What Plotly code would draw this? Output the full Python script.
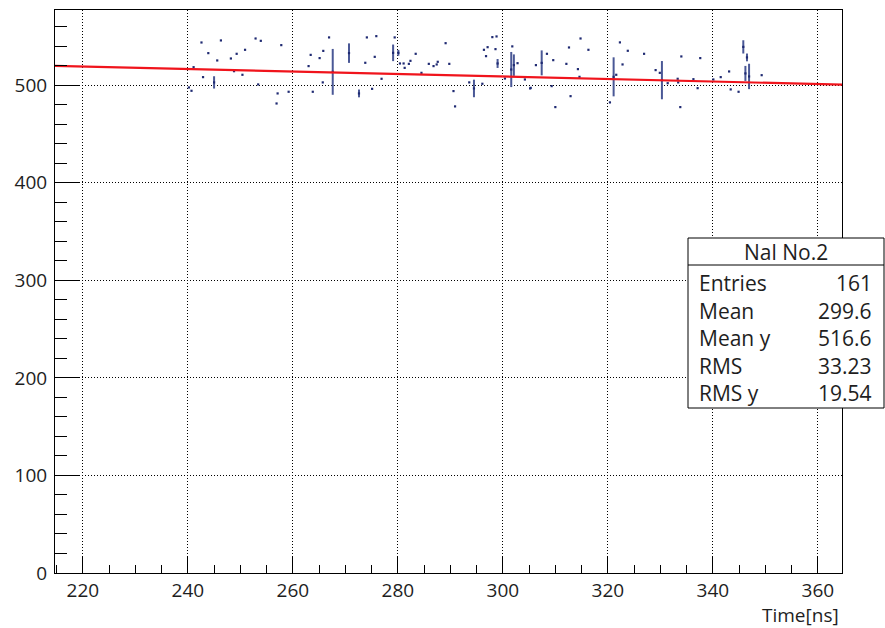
import plotly.graph_objects as go

# ---- data ----
# isolated points (no visible error bar)
pt_x = [242.6, 246.3, 252.9, 253.9, 257.8, 243.9, 249.3, 250.9, 245.6, 248.2,
        241.1, 248.8, 242.9, 250.4, 240.2, 240.7, 253.4, 257.1, 259.2, 256.9,
        266.9, 263.4, 265.1, 265.8, 263.0, 274.1, 275.9, 275.6, 273.8, 265.7,
        263.8, 275.1, 276.9, 279.4, 280.4, 281.1, 282.1, 282.4, 281.3, 283.4,
        289.1, 285.9, 286.8, 287.4, 287.6, 289.8, 284.5, 298.0, 298.8, 297.1,
        296.4, 298.6, 296.8, 293.6, 290.6, 290.9, 296.1, 300.4, 301.8, 302.8,
        304.2, 305.2, 308.4, 306.3, 309.6, 312.1, 312.6, 314.8, 316.3, 314.3,
        314.6, 309.3, 305.3, 312.9, 310.0, 322.3, 323.8, 326.9, 322.8, 321.6,
        320.4, 334.0, 337.6, 329.1, 329.9, 333.3, 333.4, 336.3, 337.1, 333.8,
        331.4, 340.1, 341.5, 343.1, 343.4, 344.9, 349.3]
pt_y = [543.7, 545.8, 547.8, 545.4, 541.0, 532.8, 532.1, 536.2, 525.3, 527.3,
        518.4, 514.3, 508.2, 510.6, 497.6, 494.2, 500.7, 491.5, 493.2, 481.2,
        548.9, 531.0, 527.7, 535.1, 519.5, 548.9, 550.2, 529.0, 522.9, 502.8,
        493.2, 496.2, 506.5, 548.9, 522.2, 522.2, 521.8, 524.9, 517.7, 532.1,
        543.0, 521.8, 519.5, 521.2, 523.9, 521.8, 512.6, 549.2, 549.9, 538.9,
        536.2, 536.9, 529.7, 502.8, 493.9, 478.2, 501.4, 506.8, 539.7, 522.5,
        505.8, 496.6, 532.1, 520.5, 525.6, 521.8, 538.6, 547.8, 536.2, 516.4,
        508.5, 499.0, 497.2, 488.7, 477.5, 543.8, 535.2, 532.1, 521.2, 510.6,
        482.3, 529.4, 527.7, 515.4, 512.6, 506.5, 502.8, 506.1, 496.9, 477.5,
        502.0, 505.8, 508.2, 514.0, 495.6, 493.2, 510.2]

# points with vertical error bars
bar_x = [245.0, 267.6, 270.7, 272.6, 279.1, 280.1, 294.5, 299.0, 301.6, 302.1,
         307.4, 321.1, 330.3, 345.8, 346.5, 346.2, 346.9]
bar_y = [502.8, 513.6, 532.8, 491.5, 533.1, 533.1, 496.6, 522.2, 516.0, 520.5,
         522.8, 508.5, 505.1, 539.2, 528.4, 512.0, 508.9]
bar_e = [6.3, 23.5, 10.0, 4.0, 8.5, 3.0, 9.0, 4.6, 18.0, 11.0,
         12.8, 20.0, 19.6, 6.8, 4.0, 7.7, 13.0]

# linear fit (pol1)
fit_p0 = 547.4
fit_p1 = -0.1285
fit_range = [214.7, 364.6]

x_ticks = [220, 240, 260, 280, 300, 320, 340, 360]
y_ticks = [0, 100, 200, 300, 400, 500]

stats_title = "Nal No.2"
stats_labels = ["Entries", "Mean", "Mean y", "RMS", "RMS y"]
stats_values = ["161", "299.6", "516.6", "33.23", "19.54"]

# ---- figure ----
FONT = "Open Sans"
TXT = "#1e1e1e"
NAVY = "#1f2a72"

fig = go.Figure()

fig.add_trace(go.Scatter(
    x=pt_x, y=pt_y, mode="markers",
    marker=dict(symbol="square", size=2.2, color=NAVY, line=dict(width=0)),
    hoverinfo="skip", showlegend=False))

fig.add_trace(go.Scatter(
    x=bar_x, y=bar_y, mode="markers",
    marker=dict(symbol="square", size=2.2, color=NAVY, line=dict(width=0)),
    error_y=dict(type="data", array=bar_e, visible=True, width=0,
                 thickness=2, color="#4a5896"),
    hoverinfo="skip", showlegend=False))

fit_y = [fit_p0 + fit_p1 * v for v in fit_range]
fig.add_trace(go.Scatter(
    x=fit_range, y=fit_y, mode="lines",
    line=dict(color="#f0141c", width=2.2),
    hoverinfo="skip", showlegend=False))

axis_common = dict(
    showline=True, linecolor="black", linewidth=1, mirror=True,
    showgrid=True, gridcolor="black", gridwidth=1, griddash="1px,2px",
    zeroline=False, ticks="inside", tickcolor="black", tickwidth=1,
    tickfont=dict(family=FONT, size=19, color=TXT),
)

fig.update_xaxes(
    range=[214.7, 364.6], tickvals=x_ticks, ticklen=17,
    minor=dict(ticks="inside", ticklen=8, dtick=5, tick0=215,
               tickcolor="black", showgrid=False),
    **axis_common)
fig.update_yaxes(
    range=[0, 577], tickvals=y_ticks, ticklen=24, ticklabelstandoff=3,
    minor=dict(ticks="inside", ticklen=12, dtick=20, tick0=0,
               tickcolor="black", showgrid=False),
    **axis_common)

W, H = 885, 628
L, R, T, B = 55, 43, 10, 55
pw, ph = W - L - R, H - T - B

def px(x):
    return (x - L) / pw

def py(y):
    return (H - B - y) / ph

shapes = [
    dict(type="rect", xref="paper", yref="paper",
         x0=px(688), x1=px(884), y0=py(408), y1=py(238),
         line=dict(color="black", width=1), fillcolor="white", layer="above"),
    dict(type="line", xref="paper", yref="paper",
         x0=px(688), x1=px(884), y0=py(265), y1=py(265),
         line=dict(color="black", width=1), layer="above"),
]

SF = 21
annotations = [
    dict(text="Time[ns]", xref="paper", yref="paper", x=px(841), y=py(615),
         xanchor="right", yanchor="middle", showarrow=False,
         font=dict(family=FONT, size=19, color=TXT)),
    dict(text=stats_title, xref="paper", yref="paper", x=px(786), y=py(252),
         xanchor="center", yanchor="middle", showarrow=False,
         font=dict(family=FONT, size=SF, color=TXT)),
]
row_y = [283, 311, 338, 366, 393]
for lab, val, ry in zip(stats_labels, stats_values, row_y):
    annotations.append(dict(text=lab, xref="paper", yref="paper",
                            x=px(697), y=py(ry), xanchor="left", yanchor="middle",
                            showarrow=False,
                            font=dict(family=FONT, size=SF, color=TXT)))
    annotations.append(dict(text=val, xref="paper", yref="paper",
                            x=px(874), y=py(ry), xanchor="right", yanchor="middle",
                            showarrow=False,
                            font=dict(family=FONT, size=SF, color=TXT)))

fig.update_layout(
    width=W, height=H,
    margin=dict(l=L, r=R, t=T, b=B),
    paper_bgcolor="white", plot_bgcolor="white",
    shapes=shapes, annotations=annotations,
    font=dict(family=FONT),
)

fig.write_html("out.html")
